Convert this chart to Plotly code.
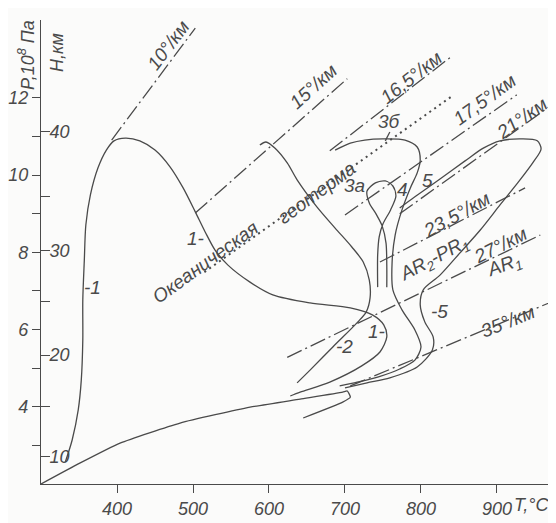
import plotly.graph_objects as go

INK = '#4a4a4a'
BG = '#fbfbfa'
FONT = 'Liberation Sans'

# ---------------- data (T in °C, P in 10^8 Pa) ----------------
x_ticks = [400, 500, 600, 700, 800, 900]
p_major = [4, 6, 8, 10, 12]
p_minor = [3, 5, 7, 9, 11]
h_major_p = [2.70, 5.34, 8.04, 11.12]     # H = 10, 20, 30, 40 km
h_labels = ['10', '20', '30', '40']
h_minor_p = [4.02, 6.74, 9.44]            # H = 15, 25, 35 km

c1_T = [332, 341, 349, 353, 355, 355, 357, 359, 365, 375, 386, 396, 411, 430, 450, 470, 487, 503,
        516, 529, 546, 575, 605, 654, 707, 736, 751, 755, 746, 722, 680, 641, 628]
c1_P = [2.57, 3.14, 3.92, 4.69, 5.73, 6.77, 7.80, 8.71, 9.49, 10.19, 10.65, 10.89, 10.96, 10.89,
        10.65, 10.21, 9.67, 9.05, 8.53, 8.06, 7.67, 7.23, 6.90, 6.69, 6.56, 6.38, 6.12, 5.81,
        5.42, 5.06, 4.64, 4.38, 4.28]

base_T = [300, 351, 404, 483, 575, 641, 697, 703, 707, 697, 645]
base_P = [2.00, 2.54, 3.06, 3.58, 3.99, 4.20, 4.38, 4.41, 4.25, 4.12, 3.71]

c2_T = [588, 596, 608, 624, 637, 663, 687, 709, 724, 732, 733, 728, 717, 684, 654, 637]
c2_P = [10.78, 10.86, 10.70, 10.32, 9.88, 9.18, 8.63, 8.14, 7.75, 7.28, 6.82, 6.46, 6.20, 5.55, 4.95, 4.62]

c3a_T = [743, 743, 745, 750, 760, 767, 763, 753, 740, 729, 732, 741, 749, 754, 755, 755]
c3a_P = [7.10, 7.93, 8.40, 8.74, 9.10, 9.46, 9.72, 9.85, 9.80, 9.59, 9.28, 8.99, 8.68, 8.24, 7.67, 7.10]

c4_T = [687, 707, 726, 750, 779, 795, 799, 795, 786, 775, 766, 762, 763, 775, 792, 800, 792, 772,
        743, 716, 693]
c4_P = [10.65, 10.83, 10.91, 10.94, 10.91, 10.73, 10.39, 10.06, 9.67, 9.10, 8.45, 7.75, 7.03, 6.51,
        5.99, 5.55, 5.21, 4.98, 4.77, 4.64, 4.54]

c5_T = [700, 729, 759, 795, 815, 816, 805, 799, 803, 825, 851, 878, 904, 928, 947, 958, 953, 933,
        904, 882, 858, 825, 792, 772]
c5_P = [4.49, 4.62, 4.75, 5.03, 5.47, 5.81, 6.20, 6.64, 7.03, 7.41, 7.98, 8.58, 9.23, 9.82, 10.32,
        10.68, 10.89, 10.94, 10.89, 10.70, 10.37, 9.90, 9.44, 9.15]

lead3b_T = [759, 753]
lead3b_P = [11.12, 10.89]

g10_T, g10_P = [393, 503], [10.91, 13.81]
g15_T, g15_P = [503, 703], [9.02, 12.50]
g165_T, g165_P = [680, 841], [10.63, 13.09]
g175_T, g175_P = [700, 926], [8.97, 12.08]
g21_T, g21_P = [772, 972], [9.00, 11.82]
g235_T, g235_P = [746, 937], [7.75, 9.67]
g27_T, g27_P = [624, 957], [5.28, 8.45]
g35_T, g35_P = [707, 972], [4.54, 6.72]
ocean_T, ocean_P = [515, 841], [7.49, 12.05]

lab_text = ['10°/км', '15°/км', '16,5°/км', '17,5°/км', '21°/км', '23,5°/км', 'AR<sub>2</sub>-PR<sub>1</sub>',
            '27°/км', 'AR<sub>1</sub>', '35°/км', 'Океаническая', 'геотерма',
            '5', '-5', '4', '3а', '3б', '-1', '1-', '1-', '-2']
lab_T = [467, 658, 787, 884, 932, 847, 818, 904, 910, 914, 516, 663,
         808, 825, 776, 713, 759, 368, 503, 742, 700]
lab_P = [13.37, 12.31, 12.54, 11.95, 11.48, 8.99, 7.83, 8.17, 7.65, 6.20, 7.73, 9.56,
         9.85, 6.48, 9.62, 9.72, 11.38, 7.08, 8.37, 5.94, 5.55]
lab_ang = [-53, -42, -38, -36, -35, -29, -28, -27, -20, -22, -36, -36,
           0, 0, 0, 0, 0, 0, 0, 0, 0]

# ---------------- figure ----------------
fig = go.Figure()

def solid(T, P, sm=0.8):
    fig.add_trace(go.Scatter(x=T, y=P, mode='lines', hoverinfo='skip',
                             line=dict(color=INK, width=1.3, shape='spline', smoothing=sm)))

def dashdot(T, P):
    fig.add_trace(go.Scatter(x=T, y=P, mode='lines', hoverinfo='skip',
                             line=dict(color=INK, width=1.3, dash='16px,4px,2px,4px')))

for T, P in [(c1_T, c1_P), (c2_T, c2_P), (c3a_T, c3a_P), (c4_T, c4_P), (c5_T, c5_P)]:
    solid(T, P)
solid(base_T, base_P, 0.5)
solid(lead3b_T, lead3b_P)

for T, P in [(g10_T, g10_P), (g15_T, g15_P), (g165_T, g165_P), (g175_T, g175_P), (g21_T, g21_P),
             (g235_T, g235_P), (g27_T, g27_P), (g35_T, g35_P)]:
    dashdot(T, P)

fig.add_trace(go.Scatter(x=ocean_T, y=ocean_P, mode='lines', hoverinfo='skip',
                         line=dict(color=INK, width=2, dash='2px,4px')))

for t, x, y, a in zip(lab_text, lab_T, lab_P, lab_ang):
    fig.add_annotation(x=x, y=y, text=t, textangle=a, showarrow=False,
                       xanchor='center', yanchor='middle',
                       font=dict(family=FONT, size=19, color=INK, style='italic'))

# axis titles
tfont = dict(family=FONT, size=18, color=INK, style='italic')
fig.add_annotation(xref='paper', yref='paper', x=-0.027, y=0.925, text='P,10<sup>8</sup> Па',
                   textangle=-90, showarrow=False, xanchor='center', yanchor='middle', font=tfont)
fig.add_annotation(xref='paper', yref='paper', x=0.031, y=0.931, text='H,км',
                   textangle=-90, showarrow=False, xanchor='center', yanchor='middle', font=tfont)
fig.add_annotation(xref='paper', yref='paper', x=0.959, y=-0.046, text='T,°C',
                   showarrow=False, xanchor='center', yanchor='middle', font=tfont)

yr = [2, 14.02]

# The page body adds an 8 px margin, so the figure is offset to land on the 556x523 window.
fig.update_layout(
    width=548, height=515,
    margin=dict(l=33, r=3, t=12, b=39, autoexpand=False),
    paper_bgcolor=BG, plot_bgcolor=BG,
    showlegend=False,
    xaxis=dict(range=[300, 973.7], showgrid=False, zeroline=False, showline=True,
               linecolor=INK, linewidth=1.3, ticks='outside', ticklen=8, tickwidth=1.2,
               tickcolor=INK, tickvals=x_ticks, ticktext=[str(v) for v in x_ticks],
               tickfont=tfont),
    yaxis=dict(range=yr, showgrid=False, zeroline=False, showline=True,
               linecolor=INK, linewidth=1.3, ticks='outside', ticklen=8, tickwidth=1.2,
               tickcolor=INK, tickvals=p_major, ticktext=[str(v) for v in p_major],
               tickfont=tfont,
               minor=dict(tickvals=p_minor, ticks='outside', ticklen=8, tickwidth=1.2,
                          tickcolor=INK, showgrid=False)),
    yaxis2=dict(range=yr, overlaying='y', anchor='x', side='left', showgrid=False,
                zeroline=False, showline=False, ticks='inside', ticklen=9, tickwidth=1.2,
                tickcolor=INK, tickvals=h_major_p, ticktext=h_labels,
                ticklabelposition='inside', tickfont=tfont,
                minor=dict(tickvals=h_minor_p, ticks='inside', ticklen=9, tickwidth=1.2,
                           tickcolor=INK, showgrid=False)),
)
# invisible trace so that the H axis is drawn
fig.add_trace(go.Scatter(x=[None], y=[None], yaxis='y2', showlegend=False, hoverinfo='skip'))

fig.write_html('out.html')
